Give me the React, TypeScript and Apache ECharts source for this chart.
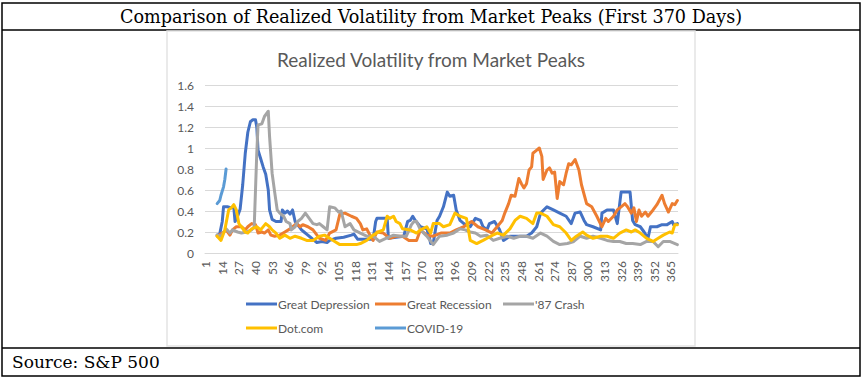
import React, { useEffect, useRef } from "react";
import * as echarts from "echarts";

const days: string[] = Array.from({ length: 370 }, (_, i) => String(i + 1));

const seriesNames = ["Great Depression", "Great Recession", "'87 Crash", "Dot.com", "COVID-19"];
const seriesColors = ["#4472C4", "#ED7D31", "#A5A5A5", "#FFC000", "#5B9BD5"];

const greatDepression: [number, number][] = [
  [10,0.17],[12,0.18],[14,0.3],[15,0.44],[18,0.44],[21,0.43],[23,0.44],[24,0.3],[26,0.35],[28,0.42],[30,0.65],[32,0.95],[34,1.15],[36,1.25],[38,1.27],[40,1.27],[41,1.2],[42,0.98],[44,0.9],[46,0.82],[48,0.75],[50,0.6],[51,0.41],[53,0.32],[56,0.3],[60,0.3],[61,0.41],[63,0.38],[65,0.4],[67,0.37],[69,0.41],[71,0.3],[73,0.27],[76,0.22],[78,0.2],[80,0.18],[83,0.15],[85,0.13],[88,0.1],[92,0.11],[96,0.1],[98,0.12],[103,0.14],[109,0.15],[115,0.17],[117,0.18],[120,0.13],[126,0.13],[132,0.13],[134,0.3],[135,0.33],[143,0.33],[144,0.14],[150,0.15],[156,0.16],[159,0.3],[161,0.31],[163,0.35],[165,0.31],[169,0.25],[174,0.23],[176,0.15],[177,0.09],[179,0.09],[182,0.31],[184,0.35],[187,0.44],[190,0.58],[192,0.54],[195,0.55],[197,0.41],[200,0.31],[203,0.28],[208,0.25],[212,0.33],[216,0.31],[218,0.25],[221,0.22],[223,0.28],[227,0.3],[231,0.22],[234,0.12],[239,0.16],[252,0.16],[256,0.19],[260,0.25],[263,0.38],[268,0.44],[273,0.41],[278,0.38],[283,0.35],[287,0.28],[290,0.38],[294,0.39],[297,0.31],[299,0.27],[304,0.25],[310,0.22],[311,0.38],[315,0.41],[320,0.41],[323,0.28],[326,0.58],[333,0.58],[335,0.31],[337,0.27],[341,0.25],[344,0.2],[347,0.14],[349,0.25],[354,0.25],[358,0.27],[362,0.27],[366,0.3],[367,0.27],[370,0.28]
];

const greatRecession: [number, number][] = [
  [10,0.16],[14,0.19],[17,0.22],[20,0.17],[22,0.22],[25,0.25],[29,0.25],[32,0.22],[34,0.25],[37,0.28],[40,0.27],[42,0.19],[45,0.2],[47,0.19],[50,0.22],[52,0.17],[55,0.16],[59,0.17],[63,0.2],[67,0.23],[72,0.28],[75,0.25],[77,0.27],[81,0.25],[85,0.22],[90,0.14],[95,0.12],[98,0.19],[103,0.22],[106,0.37],[110,0.38],[115,0.35],[119,0.33],[122,0.28],[124,0.22],[127,0.23],[130,0.16],[132,0.12],[135,0.2],[140,0.19],[145,0.14],[150,0.16],[155,0.16],[160,0.12],[166,0.12],[169,0.22],[174,0.17],[179,0.16],[185,0.19],[192,0.19],[197,0.22],[203,0.25],[205,0.27],[209,0.3],[214,0.25],[220,0.22],[225,0.19],[229,0.25],[233,0.31],[235,0.38],[238,0.47],[240,0.55],[243,0.54],[246,0.71],[248,0.66],[250,0.62],[252,0.66],[254,0.79],[256,0.82],[257,0.95],[260,0.98],[262,1.0],[264,0.92],[265,0.7],[268,0.79],[270,0.81],[272,0.76],[274,0.77],[276,0.52],[278,0.68],[281,0.65],[283,0.76],[285,0.85],[287,0.84],[290,0.89],[293,0.79],[295,0.65],[299,0.47],[303,0.44],[307,0.35],[311,0.25],[314,0.33],[316,0.3],[320,0.35],[323,0.41],[326,0.44],[329,0.47],[331,0.44],[334,0.38],[336,0.43],[338,0.3],[340,0.41],[342,0.35],[345,0.39],[347,0.35],[351,0.41],[354,0.46],[358,0.55],[360,0.47],[363,0.39],[366,0.47],[368,0.46],[370,0.5]
];

const crash87: [number, number][] = [
  [10,0.17],[13,0.16],[17,0.23],[20,0.19],[22,0.22],[26,0.2],[29,0.19],[33,0.2],[37,0.22],[39,0.25],[40,0.6],[41,0.95],[42,1.22],[45,1.23],[47,1.3],[50,1.35],[51,1.11],[53,0.76],[55,0.58],[57,0.41],[59,0.38],[62,0.35],[64,0.3],[67,0.28],[68,0.22],[71,0.25],[73,0.3],[76,0.33],[79,0.38],[82,0.33],[85,0.28],[88,0.27],[90,0.28],[93,0.25],[96,0.22],[98,0.44],[102,0.43],[105,0.39],[107,0.4],[110,0.25],[114,0.28],[117,0.22],[122,0.19],[127,0.16],[132,0.16],[137,0.11],[142,0.14],[148,0.17],[153,0.16],[158,0.16],[162,0.27],[164,0.3],[166,0.3],[169,0.22],[174,0.16],[179,0.08],[184,0.16],[190,0.17],[195,0.19],[200,0.23],[204,0.22],[208,0.2],[212,0.19],[216,0.16],[221,0.17],[226,0.12],[231,0.14],[237,0.16],[242,0.14],[247,0.16],[252,0.16],[257,0.14],[263,0.19],[268,0.16],[273,0.11],[278,0.08],[284,0.09],[289,0.11],[294,0.16],[299,0.14],[304,0.16],[310,0.14],[315,0.12],[320,0.11],[325,0.11],[330,0.09],[335,0.09],[341,0.08],[346,0.11],[351,0.11],[355,0.06],[359,0.11],[364,0.11],[370,0.08]
];

const dotCom: [number, number][] = [
  [10,0.16],[13,0.12],[16,0.22],[19,0.41],[21,0.43],[23,0.46],[25,0.41],[27,0.28],[29,0.25],[32,0.2],[34,0.19],[37,0.23],[41,0.25],[44,0.22],[48,0.28],[51,0.25],[53,0.22],[56,0.19],[59,0.14],[63,0.17],[67,0.14],[71,0.16],[76,0.14],[80,0.12],[85,0.12],[90,0.16],[94,0.17],[98,0.14],[102,0.11],[106,0.08],[112,0.08],[119,0.08],[122,0.09],[127,0.12],[132,0.17],[136,0.2],[140,0.22],[143,0.35],[145,0.33],[148,0.35],[150,0.3],[153,0.28],[155,0.23],[161,0.22],[166,0.19],[169,0.22],[174,0.25],[177,0.19],[179,0.28],[184,0.28],[187,0.25],[192,0.27],[196,0.38],[200,0.35],[205,0.33],[208,0.12],[213,0.09],[218,0.12],[224,0.16],[229,0.19],[234,0.17],[239,0.23],[243,0.31],[247,0.35],[252,0.33],[257,0.28],[260,0.38],[263,0.38],[268,0.35],[273,0.27],[278,0.25],[283,0.19],[287,0.12],[291,0.16],[296,0.2],[299,0.17],[304,0.14],[310,0.16],[315,0.16],[320,0.14],[325,0.19],[330,0.22],[334,0.2],[337,0.22],[341,0.19],[346,0.14],[351,0.11],[355,0.14],[359,0.17],[364,0.2],[366,0.19],[368,0.27],[370,0.27]
];

const covid19: [number, number][] = [
  [10,0.47],[12,0.5],[13,0.55],[15,0.63],[16,0.7],[17,0.8]
];

const yTicks = { min: 0, max: 1.6, interval: 0.2 };

const pageTitle = "Comparison of Realized Volatility from Market Peaks (First 370 Days)";
const chartTitle = "Realized Volatility from Market Peaks";
const sourceText = "Source: S&P 500";

const allSeries = [greatDepression, greatRecession, crash87, dotCom, covid19];

const legendPos = [
  { left: 241, top: 293 },
  { left: 370, top: 293 },
  { left: 498, top: 293 },
  { left: 241, top: 317 },
  { left: 370, top: 317 },
];

export default function App() {
  const ref = useRef<HTMLDivElement>(null);
  useEffect(() => {
    if (!ref.current) return;
    const chart = echarts.init(ref.current, undefined, { renderer: "svg" });
    const axisFont = { fontFamily: "Lato", fontSize: 12, color: "#595959" };
    chart.setOption({
      animation: false,
      backgroundColor: "#ffffff",
      title: {
        text: chartTitle,
        left: "center",
        top: 45,
        textStyle: { fontFamily: "Lato", fontSize: 19, fontWeight: "normal", color: "#595959" },
      },
      legend: seriesNames.map((n, i) => ({
        data: [n],
        left: legendPos[i].left,
        top: legendPos[i].top,
        icon: "rect",
        itemWidth: 31,
        itemHeight: 3,
        itemGap: 4,
        textStyle: { fontFamily: "Lato", fontSize: 12, color: "#595959", padding: [0, 0, 0, -4] },
        selectedMode: false,
      })),
      grid: { left: 205, right: 184, top: 85, bottom: 127, containLabel: false },
      xAxis: {
        type: "category",
        data: days,
        boundaryGap: true,
        axisLine: { show: true, lineStyle: { color: "#D9D9D9", width: 1 } },
        axisTick: { show: false },
        axisLabel: { ...axisFont, rotate: 90, interval: 12, margin: 8 },
        splitLine: { show: false },
      },
      yAxis: {
        type: "value",
        min: yTicks.min,
        max: yTicks.max,
        interval: yTicks.interval,
        axisLine: { show: false },
        axisTick: { show: false },
        axisLabel: { ...axisFont, margin: 11 },
        splitLine: { show: true, lineStyle: { color: "#D9D9D9", width: 1 } },
      },
      series: seriesNames.map((n, i) => ({
        name: n,
        type: "line",
        data: allSeries[i].map(([d, v]) => [String(d), v]),
        symbol: "none",
        smooth: false,
        lineStyle: { width: 3, color: seriesColors[i], cap: "round", join: "round" },
        itemStyle: { color: seriesColors[i] },
      })),
      graphic: [
        { type: "rect", shape: { x: 2, y: 3, width: 858, height: 373 }, style: { fill: "none", stroke: "#000", lineWidth: 1.5 } },
        { type: "line", shape: { x1: 2, y1: 30, x2: 860, y2: 30 }, style: { stroke: "#000", lineWidth: 1.5 } },
        { type: "line", shape: { x1: 2, y1: 348, x2: 860, y2: 348 }, style: { stroke: "#000", lineWidth: 1.5 } },
        { type: "rect", shape: { x: 167, y: 31, width: 528, height: 315 }, style: { fill: "none", stroke: "#E3E3E3", lineWidth: 1.5 } },
        { type: "text", x: 431, y: 17, style: { text: pageTitle, fontFamily: "DejaVu Serif", fontSize: 17.6, fill: "#000", align: "center", verticalAlign: "middle" } },
        { type: "text", x: 12, y: 362, style: { text: sourceText, fontFamily: "DejaVu Serif", fontSize: 17, fill: "#000", align: "left", verticalAlign: "middle" } },
      ],
    });
    return () => chart.dispose();
  }, []);
  return <div ref={ref} style={{ position: "fixed", left: 0, top: 0, width: 862, height: 380 }} />;
}
